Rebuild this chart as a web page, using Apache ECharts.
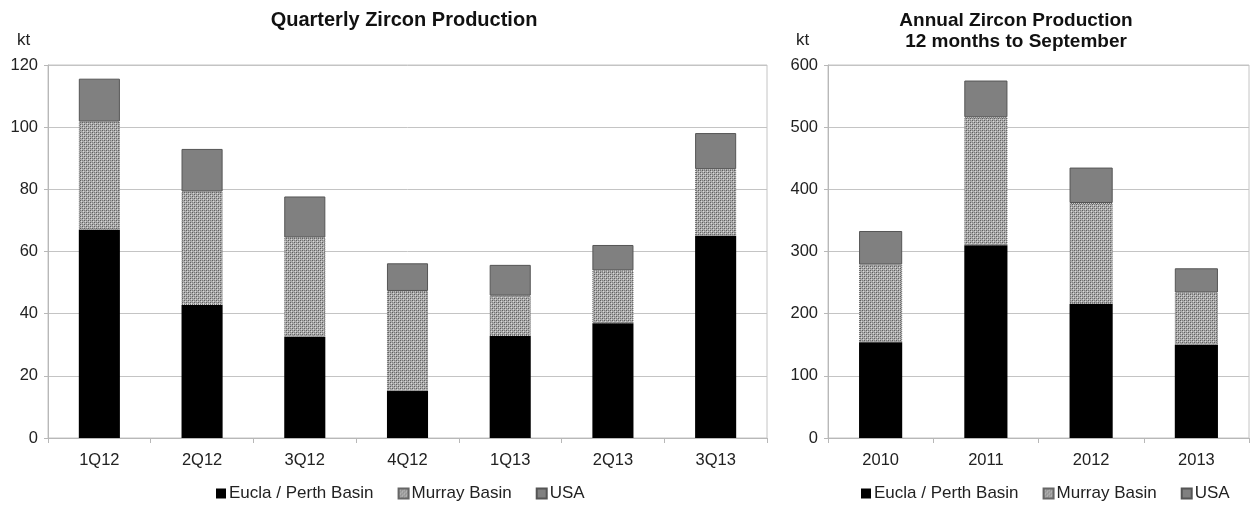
<!DOCTYPE html>
<html>
<head>
<meta charset="utf-8">
<script src="https://cdn.jsdelivr.net/npm/echarts@6/dist/echarts.min.js"></script>
<style>
html,body{margin:0;padding:0;background:#fff;}
#c{width:1253px;height:505px;}
</style>
</head>
<body>
<div id="c"></div>
<script>
// ---- data ----
var quarters = ['1Q12','2Q12','3Q12','4Q12','1Q13','2Q13','3Q13'];
var qEucla  = [67, 42.8, 32.6, 15.1, 32.8, 36.9, 65.1];
var qMurray = [34.8, 36.5, 31.9, 32.2, 13.0, 17.0, 21.4];
var qUSA    = [13.8, 13.7, 13.2, 8.9, 9.9, 8.2, 11.6];

var years = ['2010','2011','2012','2013'];
var aEucla  = [154, 310, 216, 150];
var aMurray = [125, 206, 162, 84];
var aUSA    = [54, 59, 57, 39];

var seriesNames = ['Eucla / Perth Basin','Murray Basin','USA'];
var qTicks = [0, 120, 20];
var aTicks = [0, 600, 100];

// ---- stipple pattern for Murray Basin ----
function makePattern(){
  var cv = document.createElement('canvas');
  cv.width = 4; cv.height = 4;
  var g = cv.getContext('2d');
  g.fillStyle = '#acacac'; g.fillRect(0,0,4,4);
  g.fillStyle = '#5e5e5e';
  g.fillRect(0,0,1,1); g.fillRect(2,2,1,1);
  g.fillStyle = '#7e7e7e';
  g.fillRect(2,0,1,1); g.fillRect(0,2,1,1);
  g.fillStyle = '#d8d8d8';
  g.fillRect(1,1,1,1); g.fillRect(3,3,1,1);
  return {image: cv, repeat: 'repeat'};
}
var murrayColor = makePattern();

var FONT = '"Liberation Sans", Arial, sans-serif';
var chart = echarts.init(document.getElementById('c'), null, {renderer:'canvas'});

function xAx(idx, cats){
  return {
    type:'category', gridIndex: idx, data: cats,
    axisLine:{show:true, lineStyle:{color:'#b8b8b8', width:1}},
    axisTick:{show:true, length:5, alignWithLabel:false, lineStyle:{color:'#b8b8b8'}},
    axisLabel:{color:'#222', fontSize:16.5, fontFamily:FONT, margin:14},
    splitLine:{show:false}
  };
}
function yAx(idx, t){
  return {
    type:'value', gridIndex: idx, min:t[0], max:t[1], interval:t[2],
    axisLine:{show:true, lineStyle:{color:'#b8b8b8', width:1}},
    axisTick:{show:true, length:4, lineStyle:{color:'#b8b8b8'}},
    axisLabel:{color:'#222', fontSize:16.5, fontFamily:FONT, margin:10},
    splitLine:{show:true, lineStyle:{color:'#c4c4c4', width:1}}
  };
}
function mk(name, data, idx, bw){
  var st;
  if (name === seriesNames[0]) st = {color:'#000000'};
  else if (name === seriesNames[1]) st = {color: murrayColor, borderColor:'#666', borderWidth:1, borderType:'dotted'};
  else st = {color:'#808080', borderColor:'#555555', borderWidth:1};
  return {
    name:name, type:'bar', stack:'s'+idx, xAxisIndex:idx, yAxisIndex:idx,
    data:data, barWidth:bw, itemStyle:st, animation:false,
    emphasis:{disabled:true}
  };
}

chart.setOption({
  animation:false,
  backgroundColor:'#fff',
  title:[
    {text:'Quarterly Zircon Production', left:399, top:5, textAlign:'center',
     textStyle:{fontSize:20, fontWeight:'bold', color:'#111', fontFamily:FONT}},
    {text:'Annual Zircon Production\n12 months to September', left:1011, top:5, textAlign:'center',
     textStyle:{fontSize:19, fontWeight:'bold', color:'#111', fontFamily:FONT, lineHeight:21}},
    {text:'kt', left:12, top:27, textStyle:{fontSize:17, fontWeight:'normal', color:'#222', fontFamily:FONT}},
    {text:'kt', left:791, top:27, textStyle:{fontSize:17, fontWeight:'normal', color:'#222', fontFamily:FONT}}
  ],
  grid:[
    {left:48, right:1253-767, top:65, bottom:505-438, show:true, borderColor:'#c4c4c4', borderWidth:1, backgroundColor:'transparent'},
    {left:828, right:4, top:65, bottom:505-438, show:true, borderColor:'#c4c4c4', borderWidth:1, backgroundColor:'transparent'}
  ],
  xAxis:[xAx(0, quarters), xAx(1, years)],
  yAxis:[yAx(0, qTicks), yAx(1, aTicks)],
  legend:[
    {data:seriesNames, left:211, top:480, icon:'rect', itemWidth:10, itemHeight:10, itemGap:24,
     selectedMode:false, textStyle:{fontSize:17, color:'#222', fontFamily:FONT, padding:[0,0,0,-2]}},
    {data:seriesNames, left:856, top:480, icon:'rect', itemWidth:10, itemHeight:10, itemGap:24,
     selectedMode:false, textStyle:{fontSize:17, color:'#222', fontFamily:FONT, padding:[0,0,0,-2]}}
  ],
  series:[
    mk(seriesNames[0], qEucla, 0, '40%'),
    mk(seriesNames[1], qMurray, 0, '40%'),
    mk(seriesNames[2], qUSA, 0, '40%'),
    mk(seriesNames[0], aEucla, 1, '41%'),
    mk(seriesNames[1], aMurray, 1, '41%'),
    mk(seriesNames[2], aUSA, 1, '41%')
  ]
});
</script>
</body>
</html>
